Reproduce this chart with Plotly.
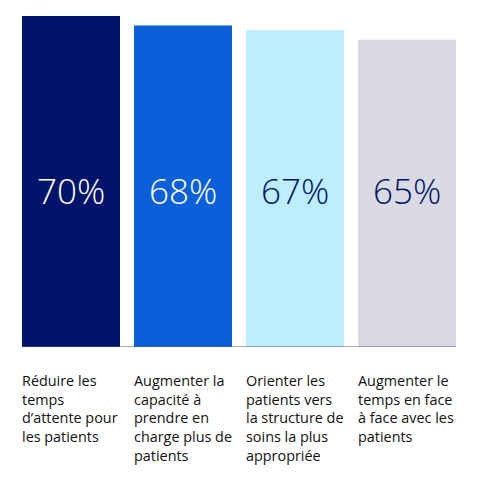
import plotly.graph_objects as go

# Données
categories = ["c1", "c2", "c3", "c4"]
valeurs = [70, 68, 67, 65]
etiquettes = [
    "Réduire les<br>temps<br>d’attente pour<br>les patients",
    "Augmenter la<br>capacité à<br>prendre en<br>charge plus de<br>patients",
    "Orienter les<br>patients vers<br>la structure de<br>soins la plus<br>appropriée",
    "Augmenter le<br>temps en face<br>à face avec les<br>patients",
]
couleurs = ["#00146b", "#0b5fd9", "#bceefd", "#dadae4"]
couleurs_texte = ["#ffffff", "#ffffff", "#00146b", "#00146b"]

largeur_barre = 0.875

fig = go.Figure()

fig.add_trace(go.Bar(
    x=categories,
    y=valeurs,
    marker=dict(color=couleurs, line=dict(width=0)),
    width=largeur_barre,
    hoverinfo="skip",
))

# Pourcentages dans les barres (même hauteur pour toutes)
for i, v in enumerate(valeurs):
    fig.add_annotation(
        x=categories[i], y=33, xref="x", yref="y",
        text=f"{v}%", showarrow=False,
        font=dict(family="Open Sans", size=35, color=couleurs_texte[i], weight=300),
    )

# Libellés sous les barres
for i, txt in enumerate(etiquettes):
    fig.add_annotation(
        x=i - largeur_barre / 2, y=0, xref="x", yref="paper",
        xanchor="left", yanchor="top", align="left",
        text=txt, showarrow=False, yshift=-22, xshift=-2,
        font=dict(family="Open Sans", size=14.4, color="#111111"),
    )

fig.update_layout(
    width=480,
    height=480,
    margin=dict(l=7, r=25, t=0, b=141),
    plot_bgcolor="white",
    paper_bgcolor="white",
    showlegend=False,
    xaxis=dict(showticklabels=False, showgrid=False, showline=False,
               range=[-0.5, 3.5]),
    yaxis=dict(visible=False, range=[0, 71.7]),
    shapes=[dict(type="line", xref="x", yref="y",
                 x0=-largeur_barre / 2, x1=3 + largeur_barre / 2, y0=0, y1=0,
                 line=dict(color="#4f5b93", width=1))],
)

fig.write_html("out.html")
